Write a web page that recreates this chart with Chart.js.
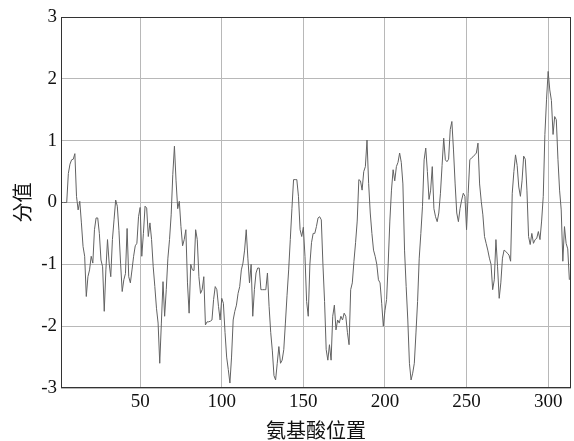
<!DOCTYPE html>
<html>
<head>
<meta charset="utf-8">
<script src="https://cdn.jsdelivr.net/npm/chart.js@4/dist/chart.umd.min.js"></script>
<style>
  html, body { margin: 0; padding: 0; background: #ffffff; }
  #wrap { width: 574px; height: 441px; }
</style>
</head>
<body>
<div id="wrap"><canvas id="c" width="574" height="441"></canvas></div>
<script>
// Amino-acid position (x) and score (y)
const positions = [
  1,2,3,4,5,6,7,8,9,10,11,12,13,14,15,16,17,18,19,20,
  21,22,23,24,25,26,27,28,29,30,31,32,33,34,35,36,37,38,39,40,
  41,42,43,44,45,46,47,48,49,50,51,52,53,54,55,56,57,58,59,60,
  61,62,63,64,65,66,67,68,69,70,71,72,73,74,75,76,77,78,79,80,
  81,82,83,84,85,86,87,88,89,90,91,92,93,94,95,96,97,98,99,100,
  101,102,103,104,105,106,107,108,109,110,111,112,113,114,115,116,117,118,119,120,
  121,122,123,124,125,126,127,128,129,130,131,132,133,134,135,136,137,138,139,140,
  141,142,143,144,145,146,147,148,149,150,151,152,153,154,155,156,157,158,159,160,
  161,162,163,164,165,166,167,168,169,170,171,172,173,174,175,176,177,178,179,180,
  181,182,183,184,185,186,187,188,189,190,191,192,193,194,195,196,197,198,199,200,
  201,202,203,204,205,206,207,208,209,210,211,212,213,214,215,216,217,218,219,220,
  221,222,223,224,225,226,227,228,229,230,231,232,233,234,235,236,237,238,239,240,
  241,242,243,244,245,246,247,248,249,250,251,252,253,254,255,256,257,258,259,260,
  261,262,263,264,265,266,267,268,269,270,271,272,273,274,275,276,277,278,279,280,
  281,282,283,284,285,286,287,288,289,290,291,292,293,294,295,296,297,298,299,300,
  301,302,303,304,305,306,307,308,309,310,311,312,313
];
const scores = [
  0,0,0,0,0,0.47,0.62,0.69,0.70,0.79,0.10,-0.12,0.02,-0.33,-0.71,-0.87,-1.52,-1.20,-1.09,-0.87,
  -0.98,-0.44,-0.25,-0.25,-0.50,-0.93,-1.04,-1.76,-1.09,-0.60,-0.98,-1.20,-0.60,-0.28,0.04,-0.06,-0.45,-0.98,-1.44,-1.25,
  -1.15,-0.42,-1.20,-1.30,-1.09,-0.87,-0.70,-0.66,-0.23,-0.08,-0.87,-0.50,-0.06,-0.09,-0.55,-0.33,-0.60,-1.04,-1.36,-1.71,
  -1.95,-2.60,-1.95,-1.28,-1.84,-1.41,-0.90,-0.60,-0.20,0.45,0.91,0.35,-0.10,0.02,-0.39,-0.70,-0.60,-0.44,-1.30,-1.79,
  -1.00,-1.09,-1.10,-0.44,-0.60,-1.20,-1.47,-1.41,-1.20,-1.98,-1.93,-1.93,-1.92,-1.90,-1.57,-1.36,-1.41,-1.68,-1.90,-1.55,
  -1.63,-2.10,-2.50,-2.70,-2.92,-2.50,-1.90,-1.76,-1.66,-1.47,-1.36,-1.09,-0.98,-0.77,-0.44,-0.90,-1.30,-1.00,-1.84,-1.41,
  -1.14,-1.06,-1.06,-1.41,-1.41,-1.41,-1.41,-1.14,-1.68,-2.10,-2.40,-2.80,-2.87,-2.60,-2.33,-2.60,-2.55,-2.38,-1.95,-1.50,
  -1.09,-0.60,-0.10,0.37,0.37,0.37,0.10,-0.44,-0.55,-0.40,-0.87,-1.60,-1.84,-1.00,-0.65,-0.50,-0.50,-0.39,-0.25,-0.23,
  -0.28,-1.00,-1.60,-2.38,-2.55,-2.30,-2.55,-1.84,-1.66,-2.06,-1.90,-1.95,-1.84,-1.90,-1.79,-1.84,-2.10,-2.30,-1.41,-1.30,
  -0.95,-0.65,-0.30,0.37,0.35,0.20,0.50,0.58,1.01,0.31,-0.17,-0.50,-0.77,-0.87,-1.00,-1.25,-1.30,-1.63,-2.00,-1.75,
  -1.57,-0.98,-0.30,0.20,0.53,0.35,0.58,0.65,0.80,0.65,0.30,-0.77,-1.36,-1.90,-2.60,-2.87,-2.76,-2.60,-2.11,-1.60,
  -0.90,-0.50,-0.06,0.69,0.88,0.50,0.05,0.20,0.58,-0.10,-0.23,-0.31,-0.17,0.15,0.60,1.04,0.69,0.66,0.70,1.18,
  1.31,0.85,0.30,-0.17,-0.31,-0.10,0.04,0.15,0.10,-0.44,0.15,0.69,0.72,0.74,0.77,0.80,0.96,0.30,0.02,-0.20,
  -0.55,-0.66,-0.77,-0.90,-1.00,-1.41,-1.25,-0.60,-1.04,-1.55,-1.30,-0.90,-0.77,-0.79,-0.82,-0.85,-0.95,0.15,0.50,0.77,
  0.60,0.25,0.10,0.35,0.75,0.70,0.20,-0.55,-0.68,-0.50,-0.66,-0.60,-0.58,-0.47,-0.60,-0.30,0.10,1.10,1.66,2.12,
  1.82,1.65,1.10,1.39,1.34,0.70,0.20,-0.12,-0.95,-0.39,-0.66,-0.75,-1.25
];
const xTicks = [50, 100, 150, 200, 250, 300];
const yTicks = [-3, -2, -1, 0, 1, 2, 3];
const xTitle = '氨基酸位置';
const yTitle = '分值';

const points = positions.map((p, i) => ({ x: p, y: scores[i] }));

const frame = {
  id: 'frame',
  afterDraw(chart) {
    const { ctx, chartArea: a } = chart;
    ctx.save();
    ctx.strokeStyle = '#333333';
    ctx.lineWidth = 1;
    ctx.strokeRect(Math.round(a.left) + 0.5, Math.round(a.top) + 0.5,
                   Math.round(a.right - a.left) - 1, Math.round(a.bottom - a.top) - 1);
    ctx.restore();
  }
};

new Chart(document.getElementById('c'), {
  type: 'line',
  data: {
    datasets: [{
      data: points,
      borderColor: '#626262',
      borderWidth: 1,
      pointRadius: 0,
      tension: 0,
      fill: false
    }]
  },
  options: {
    responsive: false,
    animation: false,
    devicePixelRatio: 1,
    layout: { padding: { top: 17, right: 3, left: 0, bottom: 0 } },
    plugins: { legend: { display: false }, tooltip: { enabled: false } },
    scales: {
      x: {
        type: 'linear',
        min: 1.5,
        max: 314,
        afterFit: s => { s.height = 53; },
        afterBuildTicks: s => { s.ticks = xTicks.map(v => ({ value: v })); },
        grid: { color: '#b8b8b8', lineWidth: 1, drawTicks: false },
        border: { display: false },
        ticks: {
          color: '#111111',
          padding: 3,
          maxRotation: 0,
          font: { family: 'Liberation Serif', size: 19 }
        },
        title: {
          display: true,
          text: xTitle,
          color: '#111111',
          padding: { top: 0, bottom: 1 },
          font: { family: 'Noto Sans CJK SC', size: 20, lineHeight: 1 }
        }
      },
      y: {
        min: -3,
        max: 3,
        afterFit: s => { s.width = 61; },
        afterBuildTicks: s => { s.ticks = yTicks.map(v => ({ value: v })); },
        grid: { color: '#b8b8b8', lineWidth: 1, drawTicks: false },
        border: { display: false },
        ticks: {
          color: '#111111',
          padding: 4,
          font: { family: 'Liberation Serif', size: 19 }
        },
        title: {
          display: true,
          text: yTitle,
          color: '#111111',
          padding: { top: 12, bottom: 0 },
          font: { family: 'Noto Sans CJK SC', size: 20, lineHeight: 1 }
        }
      }
    }
  },
  plugins: [frame]
});
</script>
</body>
</html>
